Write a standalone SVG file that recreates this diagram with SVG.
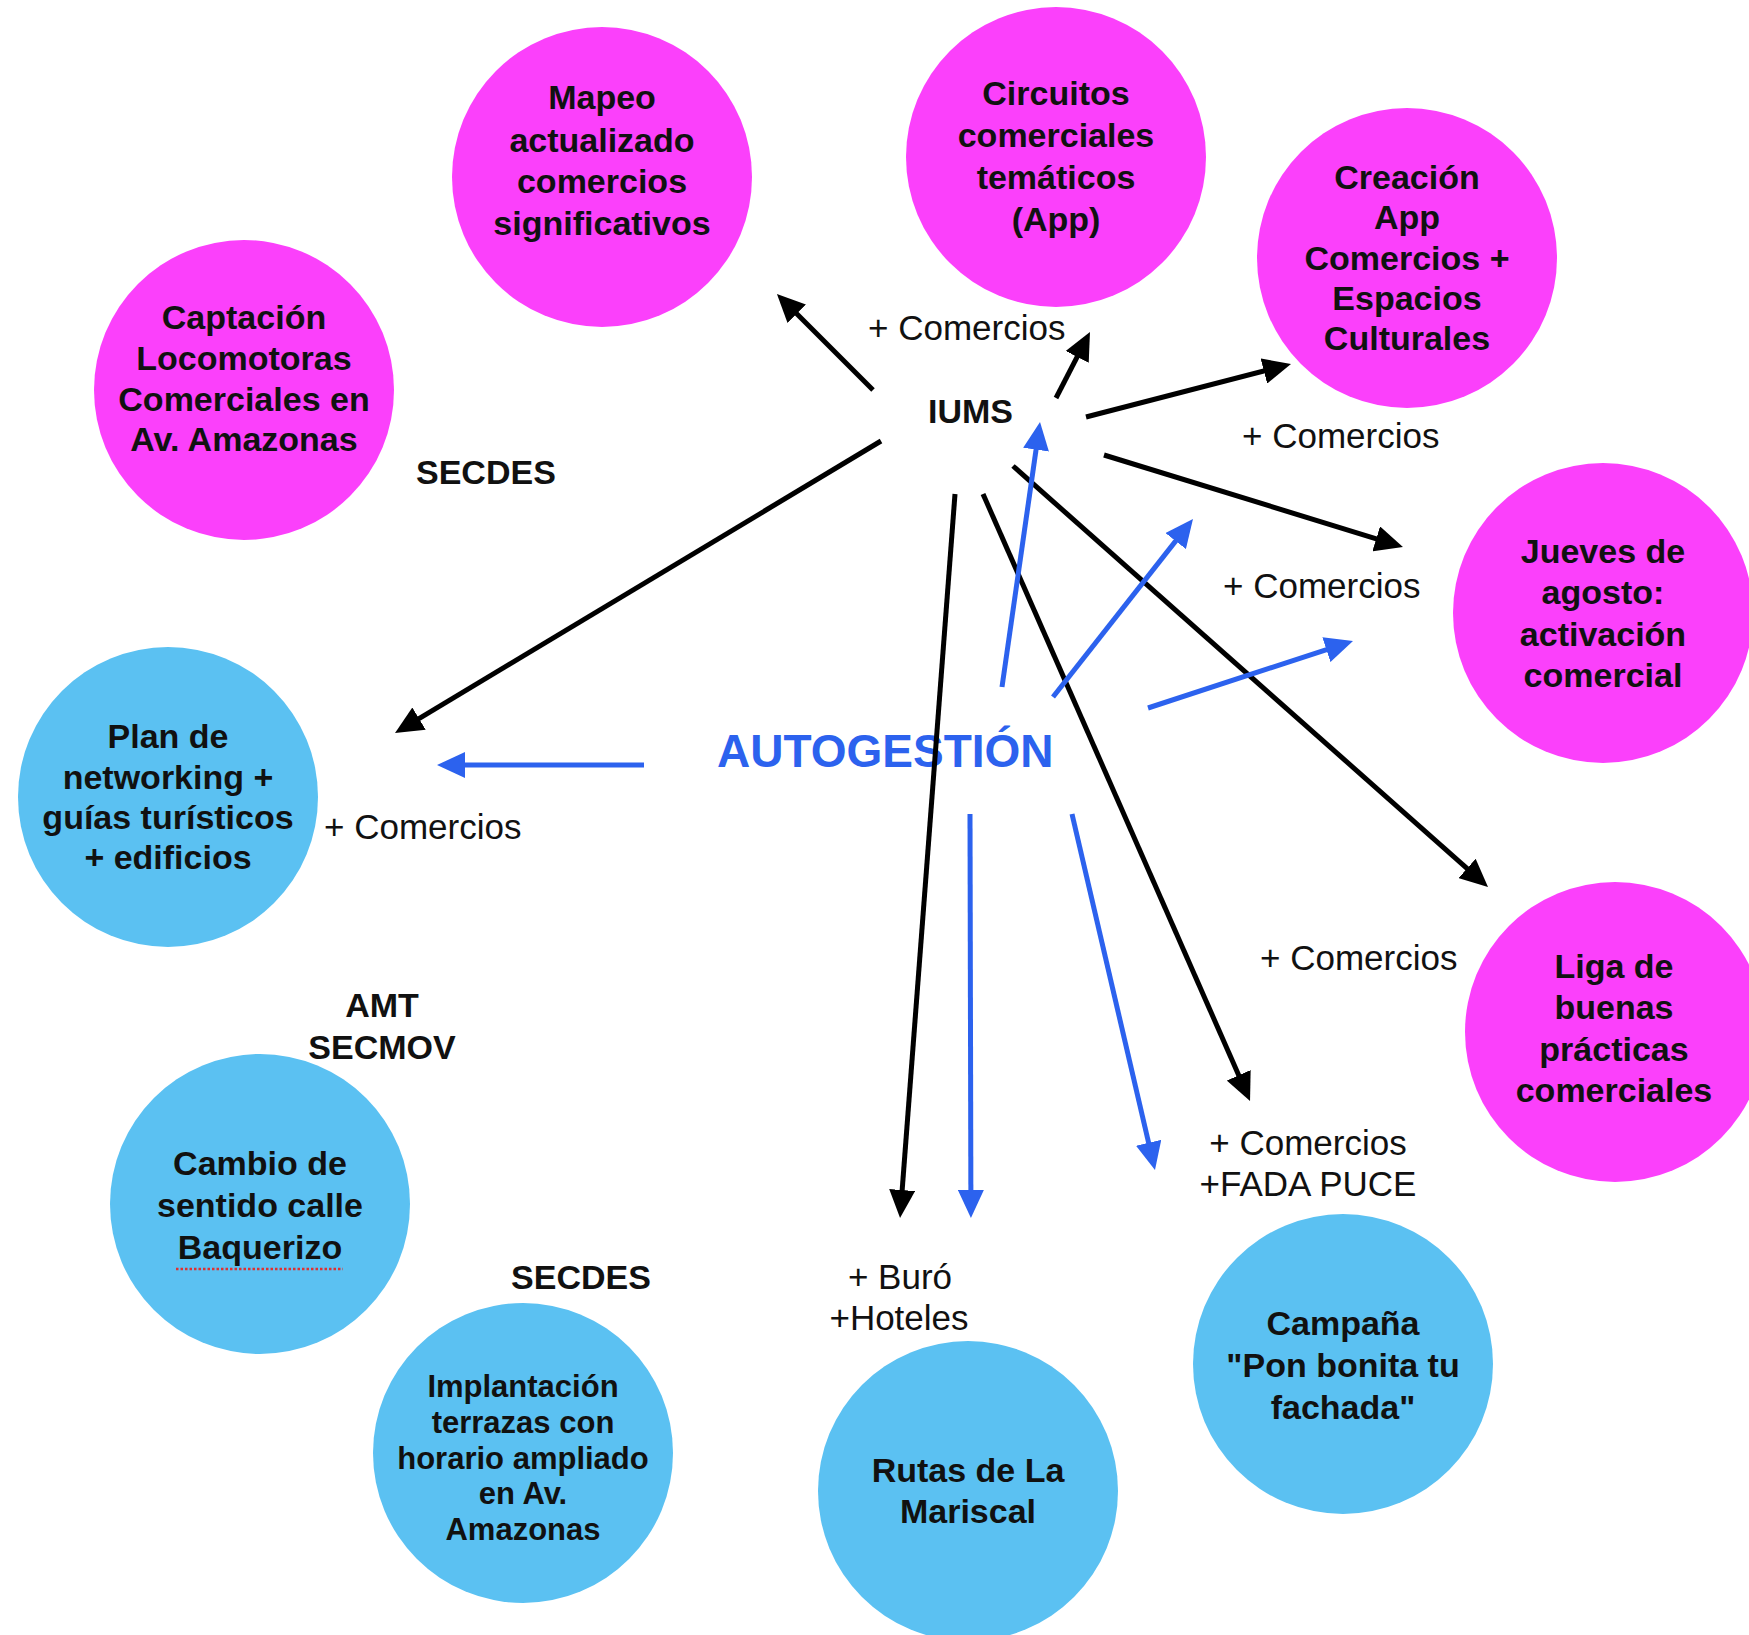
<svg xmlns="http://www.w3.org/2000/svg" width="1749" height="1635" viewBox="0 0 1749 1635">
<style>
.pink{fill:#fb40fb}
.cyan{fill:#5bc1f2}
.nt{font-family:"Liberation Sans",Arial,sans-serif;font-weight:bold;font-size:34px;fill:#111;text-anchor:middle}
.sm{font-size:31px}
.lb{font-family:"Liberation Sans",Arial,sans-serif;font-size:35px;fill:#111}
.bl{font-family:"Liberation Sans",Arial,sans-serif;font-weight:bold;font-size:34px;fill:#111}
.k{stroke:#000;stroke-width:5;fill:none}
.b{stroke:#2c62ee;stroke-width:5;fill:none}
</style>
<defs>
<marker id="ak" viewBox="0 0 28 26" refX="18" refY="13" markerWidth="28" markerHeight="26" markerUnits="userSpaceOnUse" orient="auto"><path d="M0,0 L28,13 L0,26 z" fill="#000"/></marker>
<marker id="ab" viewBox="0 0 28 26" refX="18" refY="13" markerWidth="28" markerHeight="26" markerUnits="userSpaceOnUse" orient="auto"><path d="M0,0 L28,13 L0,26 z" fill="#2c62ee"/></marker>
</defs>
<rect width="1749" height="1635" fill="#fff"/>

<g id="mapeo"><circle class="pink" cx="602" cy="177" r="150"/>
<text class="nt"><tspan x="602" y="109">Mapeo</tspan><tspan x="602" y="152">actualizado</tspan><tspan x="602" y="193">comercios</tspan><tspan x="602" y="235">significativos</tspan></text></g>

<g id="circuitos"><circle class="pink" cx="1056" cy="157" r="150"/>
<text class="nt"><tspan x="1056" y="105">Circuitos</tspan><tspan x="1056" y="147">comerciales</tspan><tspan x="1056" y="189">temáticos</tspan><tspan x="1056" y="231">(App)</tspan></text></g>

<g id="creacion"><circle class="pink" cx="1407" cy="258" r="150"/>
<text class="nt"><tspan x="1407" y="189">Creación</tspan><tspan x="1407" y="229">App</tspan><tspan x="1407" y="270">Comercios +</tspan><tspan x="1407" y="310">Espacios</tspan><tspan x="1407" y="350">Culturales</tspan></text></g>

<g id="captacion"><circle class="pink" cx="244" cy="390" r="150"/>
<text class="nt"><tspan x="244" y="329">Captación</tspan><tspan x="244" y="370">Locomotoras</tspan><tspan x="244" y="411">Comerciales en</tspan><tspan x="244" y="451">Av. Amazonas</tspan></text></g>

<g id="jueves"><circle class="pink" cx="1603" cy="613" r="150"/>
<text class="nt"><tspan x="1603" y="563">Jueves de</tspan><tspan x="1603" y="604">agosto:</tspan><tspan x="1603" y="646">activación</tspan><tspan x="1603" y="687">comercial</tspan></text></g>

<g id="liga"><circle class="pink" cx="1615" cy="1032" r="150"/>
<text class="nt"><tspan x="1614" y="978">Liga de</tspan><tspan x="1614" y="1019">buenas</tspan><tspan x="1614" y="1061">prácticas</tspan><tspan x="1614" y="1102">comerciales</tspan></text></g>

<g id="plan"><circle class="cyan" cx="168" cy="797" r="150"/>
<text class="nt"><tspan x="168" y="748">Plan de</tspan><tspan x="168" y="789">networking +</tspan><tspan x="168" y="829">guías turísticos</tspan><tspan x="168" y="869">+ edificios</tspan></text></g>

<g id="cambio"><circle class="cyan" cx="260" cy="1204" r="150"/>
<text class="nt"><tspan x="260" y="1175">Cambio de</tspan><tspan x="260" y="1217">sentido calle</tspan><tspan x="260" y="1259">Baquerizo</tspan></text>
<line x1="176" y1="1269" x2="343" y2="1269" stroke="#e03030" stroke-width="2.5" stroke-dasharray="2.5 2"/></g>

<g id="implantacion"><circle class="cyan" cx="523" cy="1453" r="150"/>
<text class="nt sm"><tspan x="523" y="1397">Implantación</tspan><tspan x="523" y="1433">terrazas con</tspan><tspan x="523" y="1469">horario ampliado</tspan><tspan x="523" y="1504">en Av.</tspan><tspan x="523" y="1540">Amazonas</tspan></text></g>

<g id="rutas"><circle class="cyan" cx="968" cy="1491" r="150"/>
<text class="nt"><tspan x="968" y="1482">Rutas de La</tspan><tspan x="968" y="1523">Mariscal</tspan></text></g>

<g id="campana"><circle class="cyan" cx="1343" cy="1364" r="150"/>
<text class="nt"><tspan x="1343" y="1335">Campaña</tspan><tspan x="1343" y="1377">"Pon bonita tu</tspan><tspan x="1343" y="1419">fachada"</tspan></text></g>

<g id="labels">
<text class="bl" x="928" y="423">IUMS</text>
<text class="bl" x="416" y="484">SECDES</text>
<text class="bl" x="382" y="1017" text-anchor="middle">AMT</text>
<text class="bl" x="382" y="1059" text-anchor="middle">SECMOV</text>
<text class="bl" x="581" y="1289" text-anchor="middle">SECDES</text>
<text x="717" y="767" font-family="Liberation Sans, Arial, sans-serif" font-weight="bold" font-size="46" fill="#2c62ee">AUTOGESTIÓN</text>
<text class="lb" x="868" y="340">+ Comercios</text>
<text class="lb" x="1242" y="448">+ Comercios</text>
<text class="lb" x="1223" y="598">+ Comercios</text>
<text class="lb" x="324" y="839">+ Comercios</text>
<text class="lb" x="1260" y="970">+ Comercios</text>
<text class="lb" text-anchor="middle"><tspan x="1308" y="1155">+ Comercios</tspan><tspan x="1308" y="1196">+FADA PUCE</tspan></text>
<text class="lb" text-anchor="middle"><tspan x="900" y="1289">+ Buró</tspan><tspan x="899" y="1330">+Hoteles</tspan></text>
</g>

<g id="connectors">
<line class="k" x1="873" y1="390" x2="784" y2="301" marker-end="url(#ak)"/>
<line class="k" x1="1056" y1="398" x2="1085.4" y2="340.9" marker-end="url(#ak)"/>
<line class="k" x1="1086" y1="417" x2="1281.3" y2="366.5" marker-end="url(#ak)"/>
<line class="k" x1="1104" y1="455" x2="1393.4" y2="544.1" marker-end="url(#ak)"/>
<line class="k" x1="881" y1="441" x2="403.6" y2="727.9" marker-end="url(#ak)"/>
<line class="k" x1="955" y1="494" x2="900.8" y2="1208" marker-end="url(#ak)"/>
<line class="k" x1="983" y1="494" x2="1246" y2="1091.8" marker-end="url(#ak)"/>
<line class="k" x1="1013" y1="466" x2="1480.5" y2="880.4" marker-end="url(#ak)"/>
<line class="b" x1="1002" y1="687" x2="1038.6" y2="431.9" marker-end="url(#ab)"/>
<line class="b" x1="1053" y1="697" x2="1186.8" y2="526.9" marker-end="url(#ab)"/>
<line class="b" x1="1148" y1="708" x2="1343.5" y2="644.1" marker-end="url(#ab)"/>
<line class="b" x1="644" y1="765" x2="447" y2="765" marker-end="url(#ab)"/>
<line class="b" x1="970" y1="814" x2="970.9" y2="1208" marker-end="url(#ab)"/>
<line class="b" x1="1072" y1="814" x2="1152.7" y2="1160.3" marker-end="url(#ab)"/>
</g>
</svg>
